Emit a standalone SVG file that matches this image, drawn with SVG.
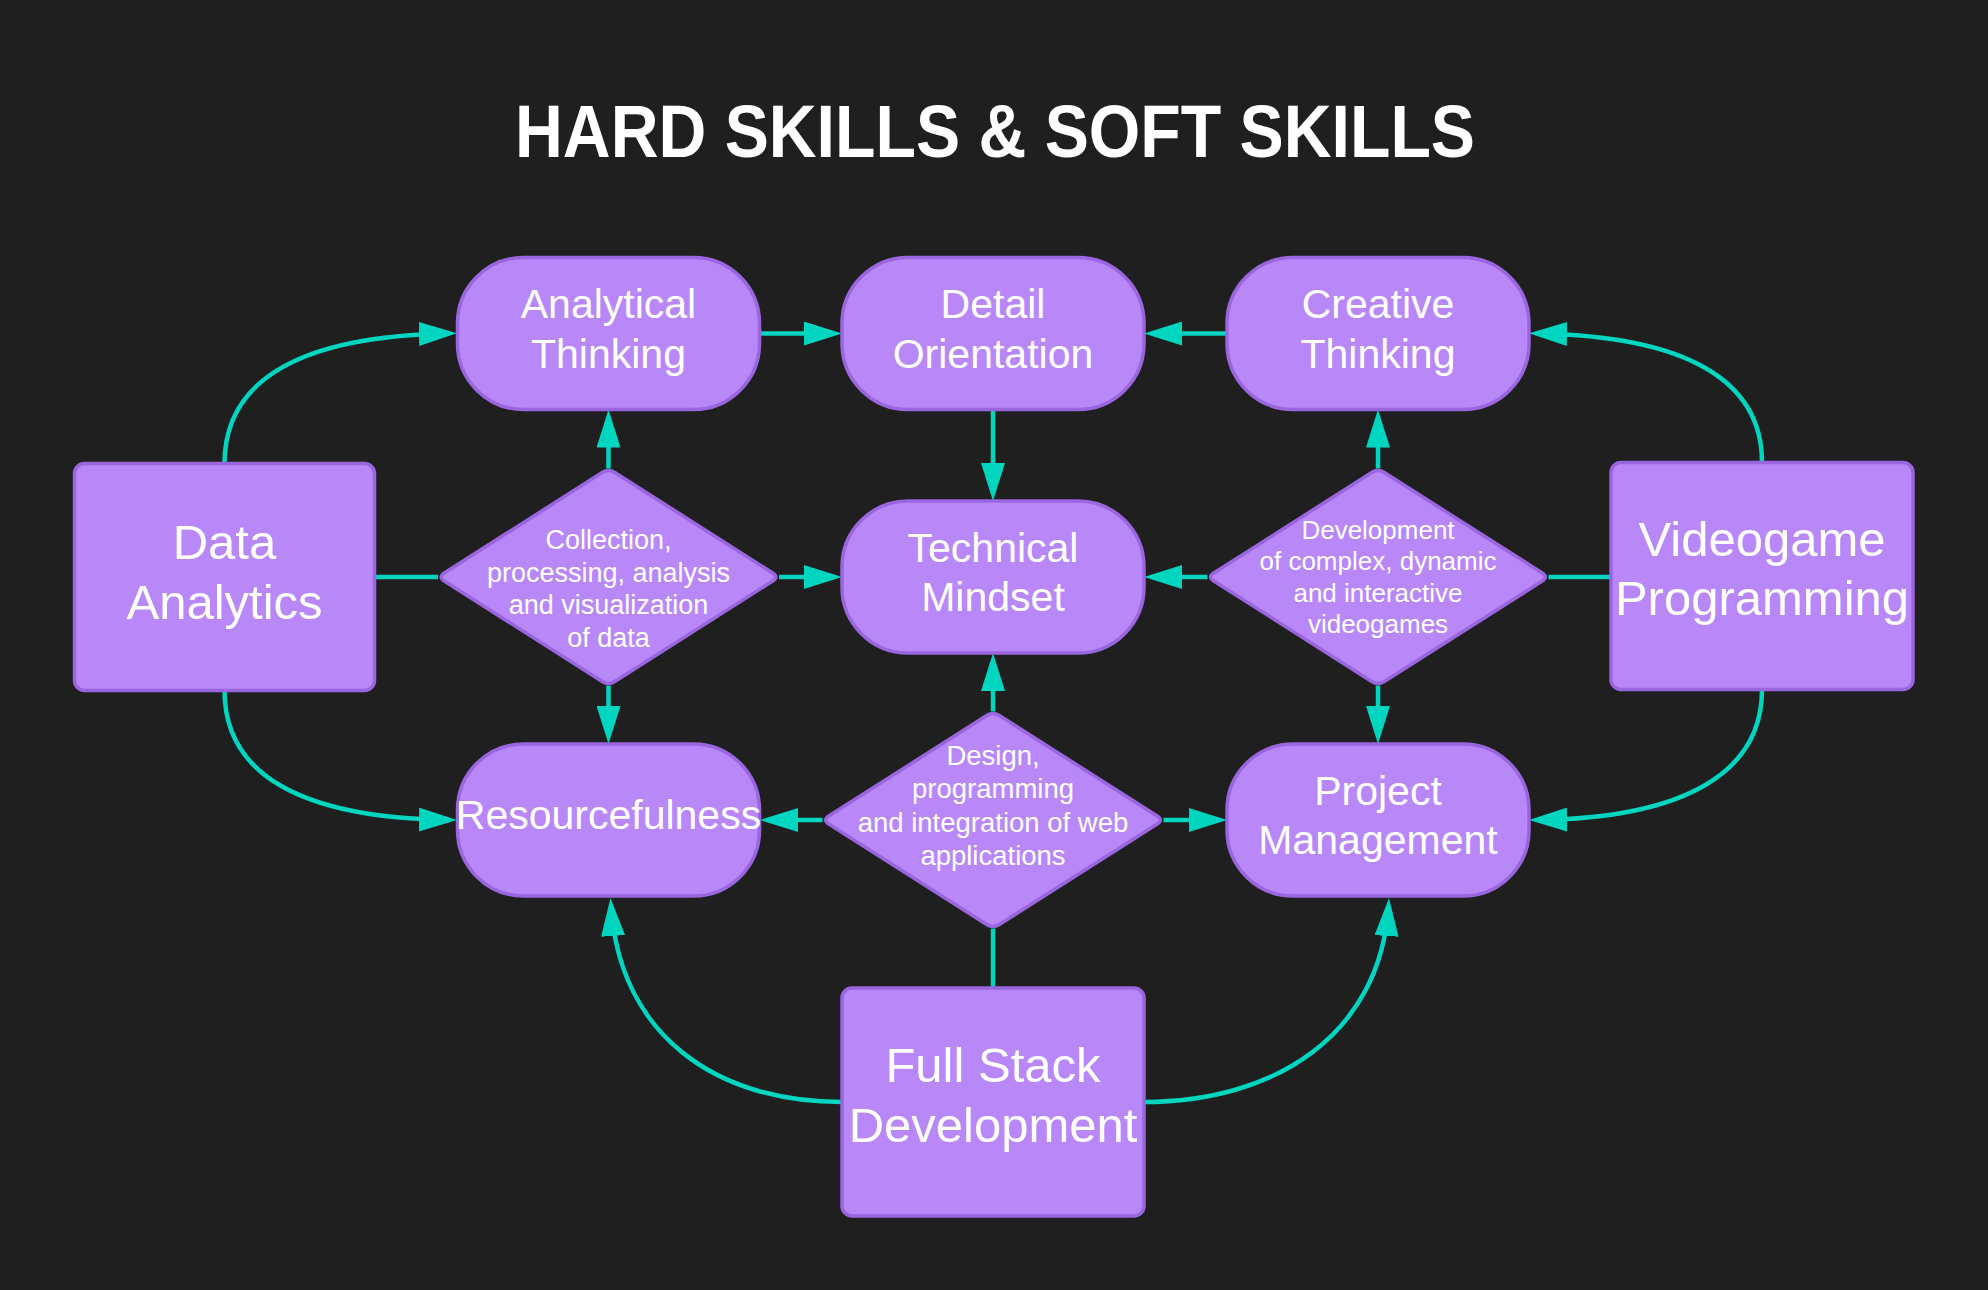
<svg xmlns="http://www.w3.org/2000/svg" width="1988" height="1290" viewBox="0 0 1988 1290">
<defs>
<style>
.bg{fill:#1f1f1f}
.title{font-family:"Liberation Sans",Arial,sans-serif;font-weight:bold;font-size:74px;fill:#ffffff;text-anchor:middle}
.node{fill:#b888f9;stroke:#9a66e0;stroke-width:3.5}
.t{font-family:"Liberation Sans",Arial,sans-serif;fill:#ffffff;text-anchor:middle}
.t41{font-size:41px}
.t49{font-size:49px}
.d27{font-size:27px}
.d26{font-size:26px}
.d275{font-size:27.5px}
.edge{fill:none;stroke:#00d5c0;stroke-width:4.5}
.arrow{marker-end:url(#ah)}
</style>
<marker id="ah" viewBox="0 0 38 24" markerWidth="38" markerHeight="24" refX="30" refY="12" orient="auto" markerUnits="userSpaceOnUse">
<path d="M0,0 L38,12 L0,24 Z" fill="#00d5c0"/>
</marker>
<path id="dia" d="M6.3,-104.5 L164.2,-4 Q170.5,0 164.2,4 L6.3,104.5 Q0,108.5 -6.3,104.5 L-164.2,4 Q-170.5,0 -164.2,-4 L-6.3,-104.5 Q0,-108.5 6.3,-104.5 Z"/>
</defs>
<rect class="bg" x="0" y="0" width="1988" height="1290"/>
<text class="title" x="995" y="157" textLength="960" lengthAdjust="spacingAndGlyphs">HARD SKILLS &amp; SOFT SKILLS</text>

<g id="connectors">
<path class="edge arrow" d="M760,333.5 L834,333.5"/>
<path class="edge arrow" d="M1227,333.5 L1152,333.5"/>
<path class="edge arrow" d="M993,409.5 L993,493"/>
<path class="edge arrow" d="M608.5,468.5 L608.5,417.5"/>
<path class="edge arrow" d="M608.5,685.5 L608.5,736"/>
<path class="edge arrow" d="M779,577 L834,577"/>
<path class="edge" d="M374.5,577 L438,577"/>
<path class="edge arrow" d="M1378,468.5 L1378,417.5"/>
<path class="edge arrow" d="M1378,685.5 L1378,736"/>
<path class="edge arrow" d="M1207.5,577 L1152,577"/>
<path class="edge" d="M1548.5,577 L1611,577"/>
<path class="edge arrow" d="M993,711.5 L993,661"/>
<path class="edge arrow" d="M822.5,820 L768,820"/>
<path class="edge arrow" d="M1163.5,820 L1219,820"/>
<path class="edge" d="M993,928.5 L993,988"/>
<path class="edge arrow" d="M224.5,463.5 C224.5,380 300,336 449,333.5"/>
<path class="edge arrow" d="M224.5,690.5 C224.5,774 300,818 449,820"/>
<path class="edge arrow" d="M1762,462.5 C1762,380 1686,336 1537,333.5"/>
<path class="edge arrow" d="M1762,689.5 C1762,772 1686,818 1537,820"/>
<path class="edge arrow" d="M842,1102 C715,1102 620,1035 611,906"/>
<path class="edge arrow" d="M1144,1102 C1275,1102 1380,1035 1388.5,906"/>
</g>

<g id="analytical-thinking">
<rect class="node" x="457.5" y="257.5" width="302" height="152" rx="66" ry="66"/>
<text class="t t41" x="608.5" y="318">Analytical</text>
<text class="t t41" x="608.5" y="367.5">Thinking</text>
</g>
<g id="detail-orientation">
<rect class="node" x="842" y="257.5" width="302" height="152" rx="66" ry="66"/>
<text class="t t41" x="993" y="318">Detail</text>
<text class="t t41" x="993" y="367.5">Orientation</text>
</g>
<g id="creative-thinking">
<rect class="node" x="1227" y="257.5" width="302" height="152" rx="66" ry="66"/>
<text class="t t41" x="1378" y="318">Creative</text>
<text class="t t41" x="1378" y="367.5">Thinking</text>
</g>
<g id="technical-mindset">
<rect class="node" x="842" y="501" width="302" height="152" rx="66" ry="66"/>
<text class="t t41" x="993" y="561.5">Technical</text>
<text class="t t41" x="993" y="611">Mindset</text>
</g>
<g id="resourcefulness">
<rect class="node" x="457.5" y="744" width="302" height="152" rx="66" ry="66"/>
<text class="t t41" x="608.5" y="829">Resourcefulness</text>
</g>
<g id="project-management">
<rect class="node" x="1227" y="744" width="302" height="152" rx="66" ry="66"/>
<text class="t t41" x="1378" y="804.5">Project</text>
<text class="t t41" x="1378" y="854">Management</text>
</g>

<g id="data-analytics">
<rect class="node" x="74.5" y="463.5" width="300" height="227" rx="10" ry="10"/>
<text class="t t49" x="224.5" y="558.5">Data</text>
<text class="t t49" x="224.5" y="618.5">Analytics</text>
</g>
<g id="videogame-programming">
<rect class="node" x="1611" y="462.5" width="302" height="227" rx="10" ry="10"/>
<text class="t t49" x="1762" y="556">Videogame</text>
<text class="t t49" x="1762" y="615">Programming</text>
</g>
<g id="full-stack-development">
<rect class="node" x="842" y="988" width="302" height="228" rx="10" ry="10"/>
<text class="t t49" x="993" y="1082">Full Stack</text>
<text class="t t49" x="993" y="1142">Development</text>
</g>

<g id="data-process">
<use href="#dia" class="node" x="608.5" y="577"/>
<text class="t d27" x="608.5" y="549">Collection,</text>
<text class="t d27" x="608.5" y="581.5">processing, analysis</text>
<text class="t d27" x="608.5" y="614">and visualization</text>
<text class="t d27" x="608.5" y="646.5">of data</text>
</g>
<g id="web-process">
<use href="#dia" class="node" x="993" y="820"/>
<text class="t d275" x="993" y="765">Design,</text>
<text class="t d275" x="993" y="798">programming</text>
<text class="t d275" x="993" y="831.5">and integration of web</text>
<text class="t d275" x="993" y="865">applications</text>
</g>
<g id="game-process">
<use href="#dia" class="node" x="1378" y="577"/>
<text class="t d26" x="1378" y="538.5">Development</text>
<text class="t d26" x="1378" y="570">of complex, dynamic</text>
<text class="t d26" x="1378" y="601.5">and interactive</text>
<text class="t d26" x="1378" y="633">videogames</text>
</g>
</svg>
